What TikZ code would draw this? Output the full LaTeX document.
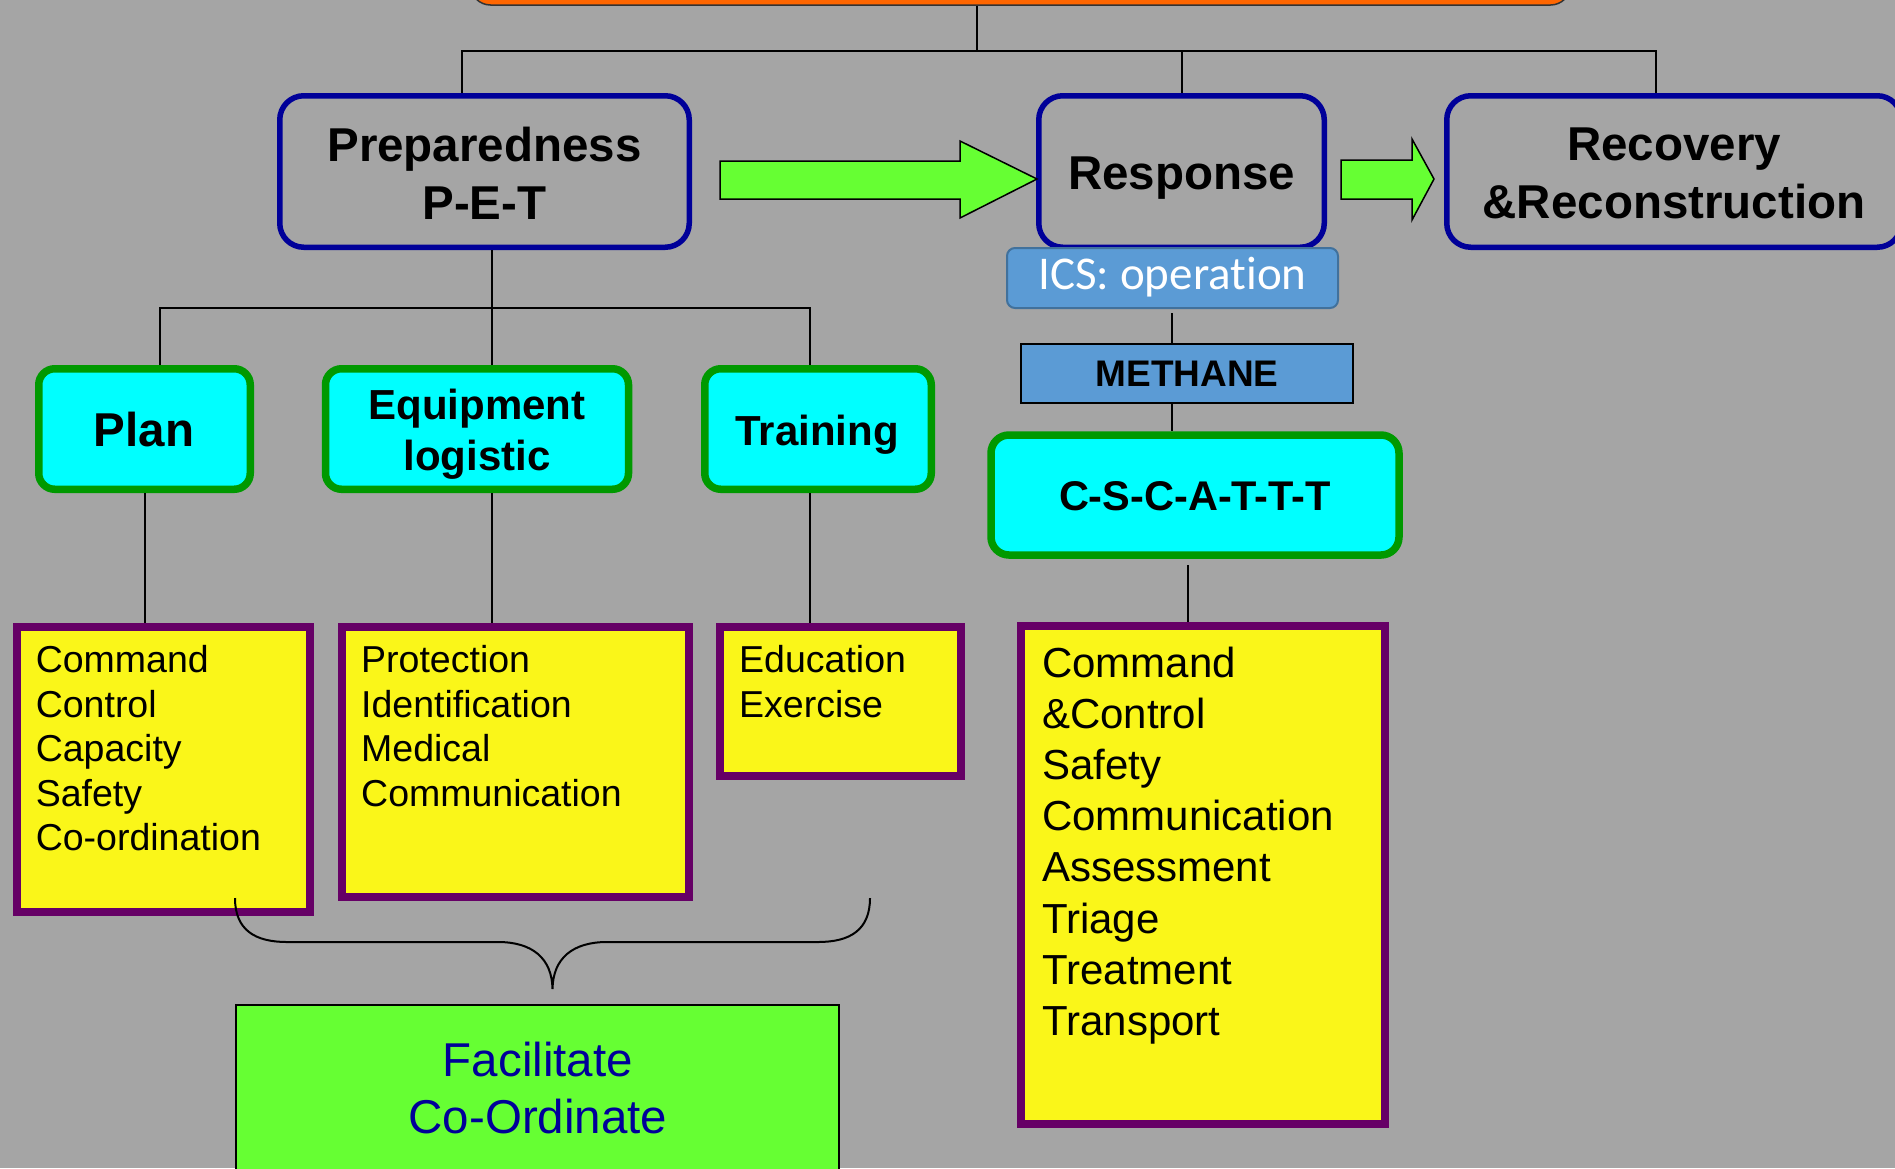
\documentclass[tikz,border=0pt]{standalone}
\usepackage{fontspec}
\setmainfont{Liberation Sans}
\newfontfamily\calfont[Ligatures=NoCommon]{Carlito}
\definecolor{bgc}{RGB}{165,165,165}
\definecolor{orng}{RGB}{255,102,0}
\definecolor{dkblue}{RGB}{0,0,153}
\definecolor{grn}{RGB}{0,153,0}
\definecolor{cyn}{RGB}{0,255,255}
\definecolor{cYellow}{RGB}{250,246,25}
\definecolor{purp}{RGB}{102,0,102}
\definecolor{lime}{RGB}{102,255,51}
\definecolor{icsf}{RGB}{91,155,213}
\definecolor{icsb}{RGB}{65,113,156}
\definecolor{factext}{RGB}{0,0,153}
\begin{document}
\begin{tikzpicture}[x=1pt,y=-1pt,
  phase/.style={draw=dkblue, line width=5.5pt, rounded corners=24pt, inner sep=0pt},
  subbox/.style={draw=grn, fill=cyn, line width=7.5pt, rounded corners=16pt, inner sep=0pt},
  listbox/.style={draw=purp, fill=cYellow, line width=8pt, inner sep=0pt},
  hd/.style={font=\fontsize{47.5}{57}\selectfont\bfseries, inner sep=0pt, anchor=base},
  sd/.style={font=\fontsize{42}{50}\selectfont\bfseries, inner sep=0pt, anchor=base},
  lstA/.style={font=\fontsize{37.5}{45}\selectfont, inner sep=0pt, anchor=base west},
  lstB/.style={font=\fontsize{42}{50}\selectfont, inner sep=0pt, anchor=base west},
  conn/.style={line width=2pt, draw=black},
  barrow/.style={fill=lime, draw=black, line width=1.5pt, line join=miter},
]
\path[use as bounding box] (0,0) rectangle (1895,1168);
\clip (0,0) rectangle (1895,1168);
\fill[bgc] (0,0) rectangle (1895,1168);

% top orange box
\node[draw=black!80, fill=orng, line width=1.5pt, rounded corners=20pt, minimum width=1100pt, minimum height=120pt, inner sep=0pt] (top) at (1020.5,-55) {};

% phase boxes
\node[phase, minimum width=409.5pt, minimum height=151.5pt] (prep) at (484.5,171.5) {};
\node[phase, minimum width=285.5pt, minimum height=151.5pt] (resp) at (1181.5,171.5) {};
\node[phase, minimum width=454.5pt, minimum height=151.5pt] (recov) at (1674,171.5) {};
\node[hd] (prepA) at (484.5,161) {Preparedness};
\node[hd] (prepB) at (484.5,219) {P-E-T};
\node[hd] (respT) at (1181.5,189) {Response};
\node[hd] (recA) at (1674,160) {Recovery};
\node[hd] (recB) at (1674,218) {\&Reconstruction};

% top connectors
\coordinate (j0) at (977,51);
\coordinate (hl) at (462,51);
\coordinate (hr) at (1656,51);
\draw[conn] (j0 |- top.south) -- (j0);
\draw[conn] (hl |- prep.north) -- (hl) -- (hr) -- (hr |- recov.north);
\draw[conn] (resp.north |- j0) -- (resp.north);

% block arrows
\draw[barrow] (720,161) -- (960,161) -- (960,141) -- (1037,179) -- (960,218) -- (960,199) -- (720,199) -- cycle;
\draw[barrow] (1341,160) -- (1412,160) -- (1412,139) -- (1434,179) -- (1412,220) -- (1412,199) -- (1341,199) -- cycle;

% ICS / METHANE / CSCATTT
\node[draw=icsb, fill=icsf, line width=2pt, rounded corners=8pt, minimum width=331pt, minimum height=60pt, inner sep=0pt] (ics) at (1172.5,278) {};
\node[anchor=base, text=white, font=\calfont\fontsize{47}{56}\selectfont, inner sep=0pt] (icsT) at (1172.5,289) {ICS: operation};
\node[draw=black, fill=icsf, line width=2pt, minimum width=332pt, minimum height=59pt, inner sep=0pt] (meth) at (1187,373.5) {};
\node[anchor=base, font=\fontsize{37}{44}\selectfont\bfseries, inner sep=0pt] (methT) at (1187,386.5) {METHANE};
\node[subbox, rounded corners=18pt, minimum width=408pt, minimum height=120pt] (csc) at (1195,495) {};
\node[anchor=base, font=\fontsize{41.5}{50}\selectfont\bfseries, inner sep=0pt] (cscT) at (1195,510) {C-S-C-A-T-T-T};
\coordinate (iv) at (1172,313);
\draw[conn] (iv) -- (iv |- meth.north);
\draw[conn] (iv |- meth.south) -- (iv |- csc.north);

% right list box
\node[listbox, minimum width=364pt, minimum height=498pt] (yR) at (1203,875) {};
\coordinate (cs) at (1188,565);
\draw[conn] (cs) -- (cs |- yR.north);
\foreach \t [count=\i from 0] in {Command,\&Control,Safety,Communication,Assessment,Triage,Treatment,Transport}
  \node[lstB] (r\i) at (1042,{677+51.2*\i}) {\t};

% second level (preparedness)
\node[subbox, minimum width=211.5pt, minimum height=120.5pt] (plan) at (144.5,429) {};
\node[subbox, minimum width=303pt, minimum height=120.5pt] (equip) at (477,429) {};
\node[subbox, minimum width=226.5pt, minimum height=120.5pt] (train) at (818,429) {};
\node[hd] (planT) at (144,446.5) {Plan};
\node[sd] (equipA) at (477,419.5) {Equipment};
\node[sd] (equipB) at (477,470) {logistic};
\node[sd] (trainT) at (817,445) {Training};

\coordinate (lv) at (492,308);
\coordinate (ll) at (160,308);
\coordinate (lr) at (810,308);
\draw[conn] (lv |- prep.south) -- (lv);
\draw[conn] (ll |- plan.north) -- (ll) -- (lr) -- (lr |- train.north);
\draw[conn] (lv) -- (lv |- equip.north);

% list boxes
\node[listbox, minimum width=293.5pt, minimum height=285.5pt] (y1) at (163.25,769.25) {};
\node[listbox, minimum width=347pt, minimum height=270.5pt] (y2) at (515,761.75) {};
\node[listbox, minimum width=241pt, minimum height=149.5pt] (y3) at (840.5,701.25) {};
\draw[conn] (plan.south) -- (plan.south |- y1.north);
\draw[conn] (lv |- equip.south) -- (lv |- y2.north);
\draw[conn] (lr |- train.south) -- (lr |- y3.north);

\foreach \t [count=\i from 0] in {Command,Control,Capacity,Safety,Co-ordination}
  \node[lstA] (a\i) at (35.6,{672.5+44.5*\i}) {\t};
\foreach \t [count=\i from 0] in {Protection,Identification,Medical,Communication}
  \node[lstA] (b\i) at (361,{672.5+44.5*\i}) {\t};
\foreach \t [count=\i from 0] in {Education,Exercise}
  \node[lstA] (c\i) at (739,{672.5+44.5*\i}) {\t};

% brace
\draw[conn] (235,898) .. controls (235,930) and (255,942) .. (287,942) -- (498,942)
  .. controls (532,942) and (552,958) .. (552.5,989)
  .. controls (553,958) and (573,942) .. (607,942) -- (818,942)
  .. controls (850,942) and (870,930) .. (870,898);

% facilitate box
\node[draw=black, fill=lime, line width=2pt, minimum width=603pt, minimum height=300pt, anchor=north, inner sep=0pt] (fac) at (537.4,1004) {};
\node[anchor=base, text=factext, font=\fontsize{47.5}{57}\selectfont, inner sep=0pt] (facA) at (538,1076) {Facilitate};
\node[anchor=base, text=factext, font=\fontsize{47.5}{57}\selectfont, inner sep=0pt] (facB) at (538,1133) {Co-Ordinate};
\end{tikzpicture}
\end{document}
